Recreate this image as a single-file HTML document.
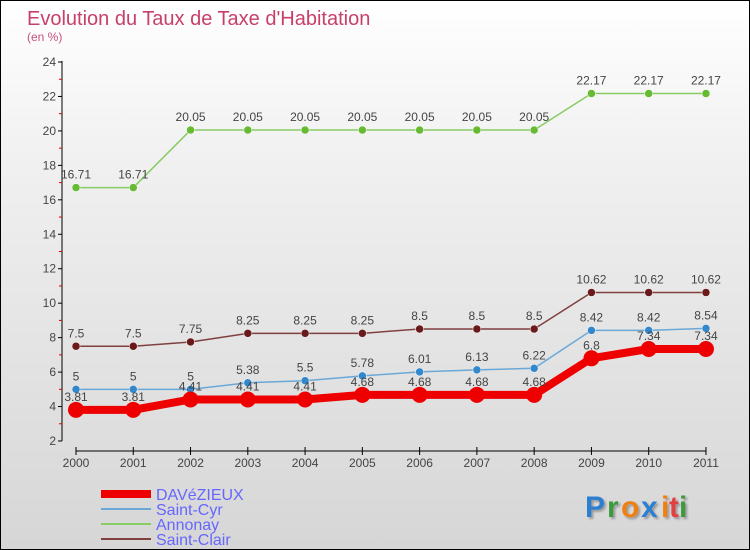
<!DOCTYPE html>
<html><head><meta charset="utf-8"><style>
body{margin:0}
#c{width:750px;height:550px;position:relative;box-sizing:border-box;border:1px solid #000;background:linear-gradient(#fff,#f0f0f0 30%,#d6d6d6);font-family:"Liberation Sans",sans-serif;overflow:hidden}
</style></head><body>
<div id="c">
<svg id="s" width="750" height="550" style="position:absolute;left:0;top:0">
<defs><filter id="sh"><feDropShadow dx="2" dy="2" stdDeviation="1" flood-color="#999"/></filter></defs>
<text x="26" y="24" font-size="20" fill="#c8406a">Evolution du Taux de Taxe d'Habitation</text>
<text x="26" y="40" font-size="12" fill="#c85080">(en %)</text>
<g font-size="30" font-weight="bold" filter="url(#sh)">
<text x="584" y="516" fill="#2a7fd0">P</text><text x="606" y="516" fill="#3a9a3a">r</text><text x="620" y="516" fill="#f08010">o</text><text x="640" y="516" fill="#2a7fd0">x</text><text x="660" y="516" fill="#f08010">i</text><text x="668" y="516" fill="#e04040">t</text><text x="678" y="516" fill="#3a9a3a">i</text>
</g>
</svg>
</div>
<script>
const years=["2000","2001","2002","2003","2004","2005","2006","2007","2008","2009","2010","2011"];
const davezieux=[3.81,3.81,4.41,4.41,4.41,4.68,4.68,4.68,4.68,6.8,7.34,7.34];
const saintCyr=[5,5,5,5.38,5.5,5.78,6.01,6.13,6.22,8.42,8.42,8.54];
const annonay=[16.71,16.71,20.05,20.05,20.05,20.05,20.05,20.05,20.05,22.17,22.17,22.17];
const saintClair=[7.5,7.5,7.75,8.25,8.25,8.25,8.5,8.5,8.5,10.62,10.62,10.62];
const yTicks=[2,4,6,8,10,12,14,16,18,20,22,24];
const names=["DAVéZIEUX","Saint-Cyr","Annonay","Saint-Clair"];
const NS="http://www.w3.org/2000/svg",s=document.getElementById('s');
const X=i=>75+i*57.27, Y=v=>440-(v-2)*(379/22);
function el(t,a,p){const e=document.createElementNS(NS,t);for(const k in a)e.setAttribute(k,a[k]);(p||s).appendChild(e);return e;}
let ax=el('line',{x1:61,y1:60,x2:61,y2:440,stroke:'#000'});

let bx=el('line',{x1:75,y1:450,x2:705,y2:450,stroke:'#000'});

yTicks.forEach(v=>{el('line',{x1:57,x2:61,y1:Y(v),y2:Y(v),stroke:'#000'});
 if(v<24)el('line',{x1:58,x2:61,y1:Y(v+1),y2:Y(v+1),stroke:'#d00'});
 const t=el('text',{x:55,y:Y(v)+4,'text-anchor':'end','font-size':12,fill:'#444'});t.textContent=v;
 });
years.forEach((y,i)=>{el('line',{x1:X(i),x2:X(i),y1:446,y2:454,stroke:'#000'});
 const t=el('text',{x:X(i),y:466,'text-anchor':'middle','font-size':12,fill:'#444'});t.textContent=y;
 });
const series=[[annonay,'#88cc66','#66bb33',1.5,4],[saintClair,'#804040','#6a1a1a',1.5,4],[saintCyr,'#6aa8d8','#3388cc',1.5,4],[davezieux,'#ee0000','#ee0000',8,8]];
series.forEach(([d,c,m,w,r],k)=>{
 const g=el('g',{});
 el('polyline',{points:d.map((v,i)=>X(i)+','+Y(v)).join(' '),fill:'none',stroke:c,'stroke-width':w},g);
 d.forEach((v,i)=>{const p=el('circle',{cx:X(i),cy:Y(v),r:r,fill:m,stroke:r>5?'none':'#fff','stroke-width':0.5},g);
  
  const t=el('text',{x:X(i),y:Y(v)-9,'text-anchor':'middle','font-size':12,fill:'#444'},g);t.textContent=v;});
});
const lc=['#ee0000','#6aa8d8','#88cc66','#804040'],lw=[8,2,2,2];
names.forEach((n,i)=>{const y=493+i*15;
 const l=el('line',{x1:100,x2:150,y1:y,y2:y,stroke:lc[i],'stroke-width':lw[i]});
 
 const t=el('text',{x:155,y:y+6,'font-size':16,fill:'#6666ff'});t.textContent=n;
 });
</script>
</body></html>
